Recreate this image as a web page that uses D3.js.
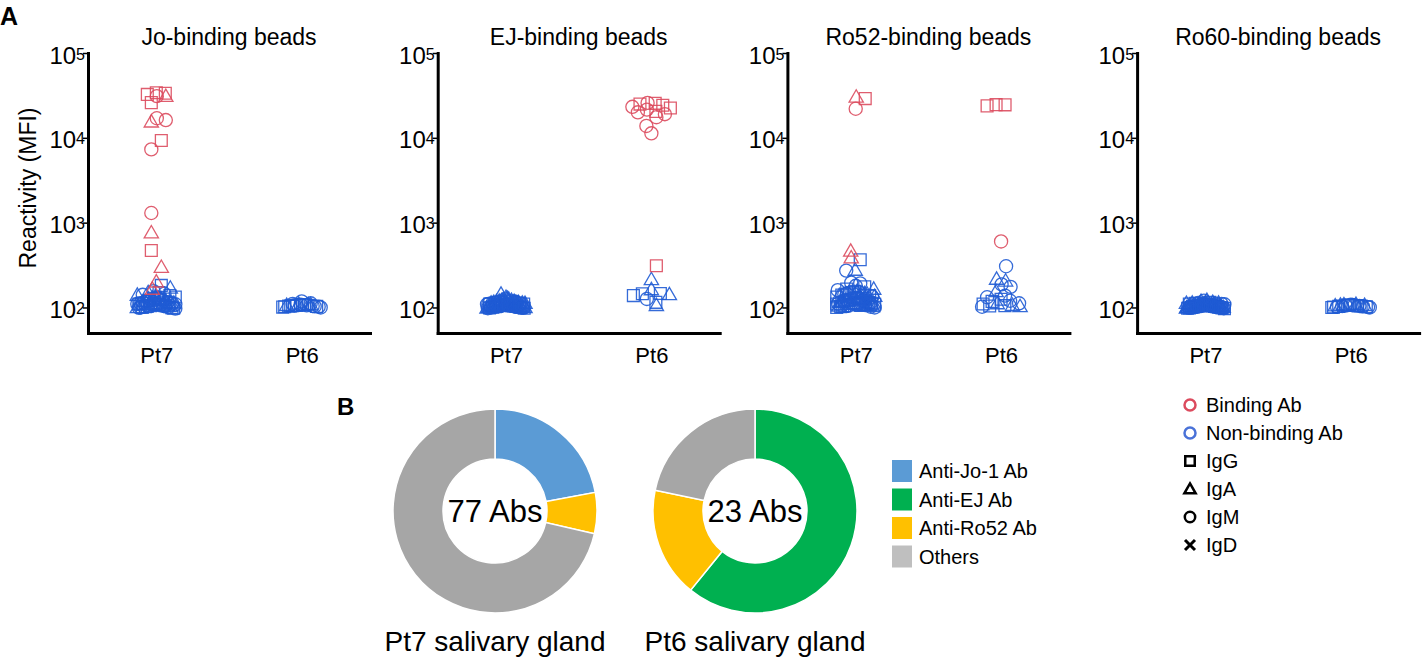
<!DOCTYPE html>
<html>
<head>
<meta charset="utf-8">
<script src="https://cdn.jsdelivr.net/npm/d3@7"></script>
<style>
  body { margin: 0; background: #fff; }
  svg { font-family: Arial, "Liberation Sans", sans-serif; }
</style>
</head>
<body>
<svg id="chart" width="1428" height="665"></svg>
<script>
// ---- data ----
var panelTitles = ["Jo-binding beads", "EJ-binding beads", "Ro52-binding beads", "Ro60-binding beads"];
var patients = ["Pt7", "Pt6"];
var tickValues = [1e2, 1e3, 1e4, 1e5];

// each point: [isotype G/A/M, binding 1 / non-binding 0, MFI]
var joPt7 = [
  ["A",1,30000],["M",1,31000],["G",1,26000],["G",1,34000],["G",1,33500],["G",1,32500],
  ["M",1,17000],["M",1,16200],["A",1,15000],["G",1,9300],["M",1,7300],
  ["M",1,1300],["A",1,740],["G",1,470],["A",1,290],["A",1,195],["A",1,160],
  ["G",0,182],["G",0,150],["G",0,138],["G",0,128],["G",0,121],["G",0,116],["G",0,112],["G",0,108],
  ["G",0,105],["G",0,102],["G",0,100],["G",0,98],["G",0,113],["G",0,119],["G",0,125],["G",0,133],
  ["G",0,107],["G",0,103],["G",0,99],["G",0,110],
  ["A",0,165],["A",0,146],["A",0,136],["A",0,126],["A",0,118],["A",0,112],["A",0,108],["A",0,104],
  ["A",0,100],["A",0,97],["A",0,106],["A",0,115],["A",0,122],["A",0,131],["A",0,110],["A",0,102],["A",0,105],
  ["M",0,156],["M",0,141],["M",0,130],["M",0,123],["M",0,115],["M",0,110],["M",0,106],["M",0,102],
  ["M",0,99],["M",0,112],["M",0,118],["M",0,127],["M",0,108],["M",0,104],["M",0,101],["M",0,145],
  ["M",0,120],["M",0,114],["M",0,109],["M",0,100],["M",0,103],["M",0,97],["M",0,111]
];
var joPt6 = [
  ["A",0,105],["M",0,118],["G",0,104],["M",0,108],["G",0,106],["M",0,103],["A",0,107],["G",0,102],
  ["M",0,110],["G",0,105],["M",0,104],["A",0,103],["G",0,108],["M",0,106],["G",0,101],["M",0,102],
  ["G",0,107],["A",0,105],["M",0,112],["G",0,104],["M",0,100],["G",0,103],["M",0,106]
];
var ejPt7 = [
  ["A",0,140],["A",0,128],["A",0,122],["A",0,118],["A",0,115],["A",0,112],["A",0,110],["A",0,108],
  ["A",0,106],["A",0,105],["A",0,104],["A",0,103],["A",0,102],["A",0,101],["A",0,100],["A",0,99],
  ["A",0,98],["A",0,97],["A",0,96],["A",0,112],["A",0,116],["A",0,120],["A",0,125],["A",0,109],
  ["A",0,107],["A",0,105],["A",0,103],["A",0,101],["A",0,99],["A",0,110],["A",0,114],["A",0,118],
  ["A",0,106],["A",0,104],["A",0,100],
  ["G",0,120],["G",0,115],["G",0,112],["G",0,110],["G",0,108],["G",0,106],["G",0,105],["G",0,104],
  ["G",0,103],["G",0,102],["G",0,101],["G",0,100],["G",0,99],["G",0,98],["G",0,110],["G",0,107],
  ["G",0,105],["G",0,103],["G",0,101],["G",0,113],["G",0,117],
  ["M",0,125],["M",0,118],["M",0,114],["M",0,111],["M",0,109],["M",0,107],["M",0,105],["M",0,104],
  ["M",0,103],["M",0,102],["M",0,100],["M",0,99],["M",0,98],["M",0,112],["M",0,108],["M",0,106],
  ["M",0,104],["M",0,102],["M",0,100],["M",0,115],["M",0,110]
];
var ejPt6 = [
  ["M",1,23200],["G",1,25500],["G",1,25000],["G",1,24200],["M",1,25800],["M",1,19000],["M",1,17500],
  ["G",1,20500],["M",1,21500],["G",1,22500],["M",1,13800],["M",1,11300],["M",1,20000],["G",1,310],
  ["A",0,208],["A",0,158],["A",0,138],["G",0,138],["M",0,126],["G",0,115],["G",0,145],["G",0,146],["A",0,103]
];
var ro52Pt7 = [
  ["A",1,29500],["G",1,29000],["M",1,22000],["A",1,450],["A",1,375],
  ["G",0,365],["M",0,272],["A",0,268],["M",0,196],["M",0,192],
  ["A",0,160],["A",0,150],["A",0,142],["A",0,135],["A",0,128],["A",0,122],["A",0,118],["A",0,115],
  ["A",0,112],["A",0,110],["A",0,108],["A",0,106],["A",0,104],["A",0,102],["A",0,100],["A",0,140],
  ["A",0,132],["A",0,125],["A",0,119],["A",0,113],["A",0,107],["A",0,103],["A",0,101],["A",0,145],["A",0,105],
  ["G",0,175],["G",0,165],["G",0,155],["G",0,148],["G",0,140],["G",0,133],["G",0,127],["G",0,121],
  ["G",0,116],["G",0,112],["G",0,109],["G",0,106],["G",0,104],["G",0,102],["G",0,100],["G",0,138],
  ["G",0,130],["G",0,124],["G",0,118],["G",0,114],["G",0,110],["G",0,107],["G",0,103],["G",0,150],
  ["M",0,180],["M",0,160],["M",0,150],["M",0,142],["M",0,134],["M",0,127],["M",0,121],["M",0,116],
  ["M",0,111],["M",0,108],["M",0,105],["M",0,102],["M",0,100],["M",0,145],["M",0,130],["M",0,120],
  ["M",0,113],["M",0,106]
];
var ro52Pt6 = [
  ["G",1,23800],["G",1,24500],["G",1,24600],["M",1,600],
  ["M",0,306],["A",0,210],["A",0,200],["M",0,187],["M",0,175],["A",0,150],["M",0,138],["M",0,132],
  ["G",0,125],["M",0,120],["G",0,110],["G",0,105],["G",0,104],["A",0,103],["A",0,108],["M",0,112],
  ["G",0,118],["A",0,100],["M",0,102]
];
var ro60Pt7 = [
  ["A",0,118],["A",0,112],["A",0,110],["A",0,108],["A",0,106],["A",0,105],["A",0,104],["A",0,103],
  ["A",0,102],["A",0,101],["A",0,100],["A",0,99],["A",0,98],["A",0,97],["A",0,96],["A",0,110],
  ["A",0,107],["A",0,105],["A",0,103],["A",0,101],["A",0,99],["A",0,104],["A",0,106],["A",0,108],
  ["A",0,102],["A",0,100],["A",0,98],["A",0,115],["A",0,109],["A",0,103],
  ["G",0,115],["G",0,110],["G",0,108],["G",0,106],["G",0,105],["G",0,104],["G",0,103],["G",0,102],
  ["G",0,101],["G",0,100],["G",0,99],["G",0,98],["G",0,97],["G",0,107],["G",0,105],["G",0,103],
  ["G",0,101],["G",0,99],["G",0,112],["G",0,104],["G",0,102],["G",0,100],["G",0,106],
  ["M",0,120],["M",0,113],["M",0,110],["M",0,108],["M",0,106],["M",0,105],["M",0,104],["M",0,103],
  ["M",0,102],["M",0,101],["M",0,100],["M",0,99],["M",0,98],["M",0,109],["M",0,107],["M",0,105],
  ["M",0,103],["M",0,101],["M",0,99],["M",0,111],["M",0,104],["M",0,102],["M",0,100],["M",0,106]
];
var ro60Pt6 = [
  ["M",0,108],["M",0,106],["M",0,105],["M",0,104],["M",0,103],["M",0,102],["M",0,101],["M",0,100],
  ["M",0,107],["M",0,104],
  ["G",0,107],["G",0,105],["G",0,104],["G",0,103],["G",0,102],["G",0,101],["G",0,106],["G",0,100],
  ["A",0,106],["A",0,104],["A",0,103],["A",0,102],["A",0,105]
];
var panelData = [[joPt7, joPt6], [ejPt7, ejPt6], [ro52Pt7, ro52Pt6], [ro60Pt7, ro60Pt6]];

var pieCategories = ["Anti-Jo-1 Ab", "Anti-EJ Ab", "Anti-Ro52 Ab", "Others"];
var pt7Counts = [17, 0, 5, 55];
var pt6Counts = [0, 14, 4, 5];
var pieTitles = ["Pt7 salivary gland", "Pt6 salivary gland"];
var shapeLegend = ["Binding Ab", "Non-binding Ab", "IgG", "IgA", "IgM", "IgD"];

// ---- styles ----
var pieColors = ["#5b9bd5", "#00b050", "#ffc000", "#a6a6a6"];
var legendColors = ["#5b9bd5", "#00b050", "#ffc000", "#bfbfbf"];
var bindColor = "#dc4b5e";
var nonBindColor = "#1f5bd4";

var svg = d3.select("#chart");

// panel A geometry
var axisLen = 282;
var yTop = 53, yBot = 333;
var panelStep = 349.7;
var firstAxisX = 88;

var yScale = d3.scaleLog().domain([50, 1e5]).range([yBot, yTop]);

var symType = { G: d3.symbolSquare, A: d3.symbolTriangle, M: d3.symbolCircle };
var symSize = { G: 140, A: 88, M: 135 };

function centerOut(n) {
  var order = [];
  var mid = Math.floor((n - 1) / 2);
  order.push(mid);
  for (var d = 1; order.length < n; d++) {
    if (mid + d < n) order.push(mid + d);
    if (mid - d >= 0 && order.length < n) order.push(mid - d);
  }
  return order;
}

// column scatter: points sharing a pixel row get spread sideways,
// lone points get a small wobble so the column is not a straight line
function spread(points, cx) {
  var bins = d3.group(points, function(p) { return Math.round(yScale(p[2]) / 7); });
  var out = [];
  bins.forEach(function(pts, key) {
    var sorted = pts.slice().sort(function(a, b) { return b[2] - a[2]; });
    var n = sorted.length;
    var s = n > 1 ? Math.min(9, 38 / (n - 1)) : 0;
    var wobble = n < 4 ? ((key % 3) - 1) * 5 : 0;
    var order = centerOut(n);
    sorted.forEach(function(p, k) {
      out.push({ p: p, x: cx + wobble + (order[k] - (n - 1) / 2) * s, y: yScale(p[2]) });
    });
  });
  return out;
}

// ---- panel A ----
svg.append("text")
  .attr("x", 0).attr("y", 25)
  .attr("font-size", 25).attr("font-weight", "bold")
  .text("A");

svg.append("text")
  .attr("transform", "translate(36,188)rotate(-90)")
  .attr("text-anchor", "middle")
  .attr("font-size", 23)
  .text("Reactivity (MFI)");

panelTitles.forEach(function(title, i) {
  var x0 = firstAxisX + i * panelStep;
  var g = svg.append("g");

  var xScale = d3.scalePoint()
    .domain(patients)
    .range([x0, x0 + axisLen])
    .padding(0.47);

  // y axis
  var yAx = g.append("g")
    .attr("transform", "translate(" + x0 + ",0)")
    .call(d3.axisLeft(yScale).tickValues(tickValues).tickSize(5).tickSizeOuter(0).tickFormat(""));
  yAx.select(".domain").attr("stroke-width", 3).attr("stroke-linecap", "square");
  yAx.selectAll(".tick line").attr("stroke-width", 1.5);
  yAx.selectAll(".tick").each(function(d) {
    var t = d3.select(this).append("text")
      .attr("x", -3).attr("y", 10)
      .attr("text-anchor", "end")
      .attr("fill", "#000");
    t.append("tspan").attr("font-size", 24).text("10");
    t.append("tspan").attr("font-size", 16).attr("dy", -4).text(Math.round(Math.log10(d)));
  });

  // x axis
  var xAx = g.append("g")
    .attr("transform", "translate(0," + yBot + ")")
    .call(d3.axisBottom(xScale).tickSize(0).tickSizeOuter(0).tickPadding(14));
  xAx.select(".domain").attr("stroke-width", 3).attr("stroke-linecap", "square");
  xAx.selectAll("text").attr("font-size", 22).attr("font-family", null).attr("fill", "#000");

  g.append("text")
    .attr("x", x0 + axisLen / 2).attr("y", 45)
    .attr("text-anchor", "middle")
    .attr("font-size", 23)
    .text(title);

  patients.forEach(function(pt, j) {
    var pts = spread(panelData[i][j], xScale(pt));
    pts.sort(function(a, b) { return a.p[1] - b.p[1]; });
    g.selectAll(null)
      .data(pts)
      .enter()
      .append("path")
      .attr("transform", function(d) { return "translate(" + d.x + "," + d.y + ")"; })
      .attr("d", function(d) { return d3.symbol().type(symType[d.p[0]]).size(symSize[d.p[0]])(); })
      .attr("fill", "none")
      .attr("stroke", function(d) { return d.p[1] ? bindColor : nonBindColor; })
      .attr("stroke-width", 1.3)
      .attr("stroke-opacity", 0.9);
  });
});

// ---- panel B ----
svg.append("text")
  .attr("x", 337).attr("y", 415)
  .attr("font-size", 24).attr("font-weight", "bold")
  .text("B");

var pie = d3.pie().sort(null).value(function(d) { return d; });
var arc = d3.arc().innerRadius(52).outerRadius(102);
var pieCenters = [495, 755];
var pieCy = 511;

[pt7Counts, pt6Counts].forEach(function(counts, i) {
  var g = svg.append("g").attr("transform", "translate(" + pieCenters[i] + "," + pieCy + ")");
  g.selectAll("path")
    .data(pie(counts))
    .enter()
    .append("path")
    .attr("d", arc)
    .attr("fill", function(d, k) { return pieColors[k]; })
    .attr("stroke", "#fff")
    .attr("stroke-width", function(d) { return d.value ? 1.5 : 0; });
  g.append("text")
    .attr("y", 11)
    .attr("text-anchor", "middle")
    .attr("font-size", 31)
    .text(d3.sum(counts) + " Abs");
  g.append("text")
    .attr("y", 140)
    .attr("text-anchor", "middle")
    .attr("font-size", 28)
    .text(pieTitles[i]);
});

// pie legend
var pieLeg = svg.append("g").attr("transform", "translate(892,460)");
pieCategories.forEach(function(c, k) {
  var row = pieLeg.append("g").attr("transform", "translate(0," + k * 28.5 + ")");
  row.append("rect").attr("width", 20).attr("height", 22).attr("fill", legendColors[k]);
  row.append("text").attr("x", 27).attr("y", 18).attr("font-size", 20).text(c);
});

// shape legend
var shapeLeg = svg.append("g").attr("transform", "translate(1190,405)");
shapeLegend.forEach(function(c, k) {
  var row = shapeLeg.append("g").attr("transform", "translate(0," + k * 28 + ")");
  if (k < 2) {
    row.append("circle").attr("r", 5.5).attr("fill", "none")
      .attr("stroke", k === 0 ? bindColor : "#4a72d8").attr("stroke-width", 2.5);
  } else if (k === 5) {
    row.append("path").attr("d", "M-5,-5L5,5M-5,5L5,-5")
      .attr("stroke", "#000").attr("stroke-width", 3);
  } else {
    var key = ["G", "A", "M"][k - 2];
    var sz = { G: 90, A: 55, M: 85 }[key];
    row.append("path")
      .attr("d", d3.symbol().type(symType[key]).size(sz)())
      .attr("transform", key === "A" ? "translate(0,1)" : null)
      .attr("fill", "none").attr("stroke", "#000").attr("stroke-width", 2.5);
  }
  row.append("text").attr("x", 16).attr("y", 7).attr("font-size", 20).text(c);
});
</script>
</body>
</html>
